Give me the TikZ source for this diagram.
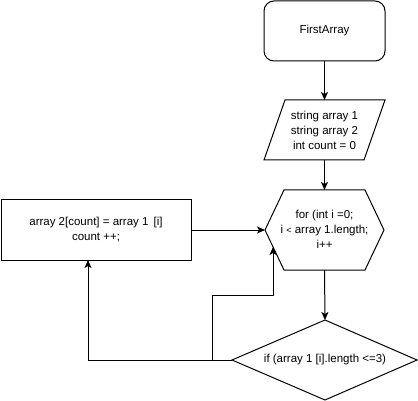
\documentclass[tikz,border=0pt]{standalone}
\usepackage{fontspec}
\setmainfont{Liberation Sans}
\usetikzlibrary{arrows.meta}
\begin{document}
\begin{tikzpicture}[x=1pt,y=-1pt, line width=1pt,
  arr/.style={-{Stealth[length=8pt,width=7pt,inset=2pt]}},
  txt/.style={font=\fontsize{11.5}{15}\selectfont, align=center, inner sep=0pt},
  shp/.style={draw, line join=miter}]
\useasboundingbox (0,0) rectangle (418,401);
% start
\node[shp, rounded corners=10pt, minimum width=121pt, minimum height=60pt, txt] (first) at (324.5,31) {FirstArray};
% parallelogram
\coordinate (pTL) at (285,100);
\coordinate (pTR) at (385,100);
\coordinate (pBR) at (364,160);
\coordinate (pBL) at (264,160);
\coordinate (pTop) at (324.5,100);
\coordinate (pBot) at (324.5,160);
\draw[shp] (pTL) -- (pTR) -- (pBR) -- (pBL) -- cycle;
\node[txt] (decl) at (324.5,130) {string array 1\\string array 2\\int count = 0};
% hexagon
\coordinate (hL) at (265,230);
\coordinate (hTL) at (284,190);
\coordinate (hTR) at (365,190);
\coordinate (hR) at (384,230);
\coordinate (hBR) at (365,270);
\coordinate (hBL) at (284,270);
\coordinate (hTop) at (324.5,190);
\coordinate (hBot) at (324.5,270);
\coordinate (hIn) at (273,247);
\draw[shp] (hL) -- (hTL) -- (hTR) -- (hR) -- (hBR) -- (hBL) -- cycle;
\node[txt] (loop) at (324.5,229) {for (int i =0;\\i {\fontsize{9}{9}\selectfont<} array 1.length;\\i++};
% diamond
\coordinate (dTop) at (325,320);
\coordinate (dR) at (417,360);
\coordinate (dB) at (325,400);
\coordinate (dL) at (232,360);
\draw[shp] (dTop) -- (dR) -- (dB) -- (dL) -- cycle;
\node[txt] (cond) at (325,360) {if (array 1 [i].length <=3)};
% assignment box
\node[shp, minimum width=190pt, minimum height=60pt, txt] (assign) at (96,230) {array 2[count] = array 1 \,[i]\\count ++;};
\coordinate (aB) at (88,260);
\coordinate (j) at (212,360);
% connectors
\draw[arr] (first.south) -- (pTop);
\draw[arr] (pBot) -- (hTop);
\draw[arr] (assign.east) -- (hL);
\draw[arr] (hBot) -- (dTop);
\draw[arr] (dL) -- (88,360) -- (aB);
\draw[arr] (j) -- (212,295) -- (273,295) -- (hIn);
\end{tikzpicture}
\end{document}
